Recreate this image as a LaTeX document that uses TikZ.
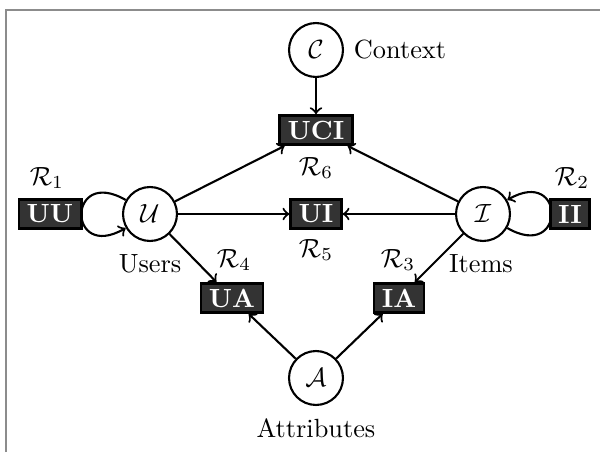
\documentclass[tikz,border=0pt]{standalone}
\begin{document}
\begin{tikzpicture}[%
        x=0.38pt, y=0.38pt,
        myentity/.style={shape=circle, draw, thick, minimum size=20.5pt, inner sep=0pt},
        myrel/.style={shape=rectangle, draw=black, line width=1pt, fill=black!80,
            text=white, font=\bfseries, inner xsep=3pt, inner ysep=2pt},
        myedge/.style={->, thick}
    ]
    \useasboundingbox (0,0) rectangle (600,452);
    \draw [black!45, line width=0.6pt] (6,0) -- (6,442) -- (600,442);
    \node [myentity] (C) at (316,402) {$\mathcal{C}$};
    \node [myentity] (U) at (150,238) {$\mathcal{U}$};
    \node [myentity] (I) at (483,238) {$\mathcal{I}$};
    \node [myentity] (A) at (316,74) {$\mathcal{A}$};
    \node (Ctext) at (400,402) {Context};
    \node (Utext) at (150,188) {Users};
    \node (Itext) at (481,188) {Items};
    \node (Atext) at (316,24) {Attributes};
    \draw [myedge] (U.150) .. controls +(150:68) and +(210:68) .. (U.210);
    \draw [myedge] (I.-30) .. controls +(-30:68) and +(30:68) .. (I.30);
    \node [myrel] (UCI) at (316,322) {UCI};
    \node [myrel] (UI) at (316,238) {UI};
    \node [myrel] (UU) at (50,238) {UU};
    \node [myrel] (II) at (570,238) {II};
    \node [myrel] (UA) at (232,154) {UA};
    \node [myrel] (IA) at (399,154) {IA};
    \node (R1) at (47,274) {$\mathcal{R}_1$};
    \node (R2) at (572,274) {$\mathcal{R}_2$};
    \node (R3) at (398,192) {$\mathcal{R}_3$};
    \node (R4) at (234,192) {$\mathcal{R}_4$};
    \node (R5) at (316,202) {$\mathcal{R}_5$};
    \node (R6) at (316,284) {$\mathcal{R}_6$};
    \foreach \mysrc/\mydst in {C/UCI, U/UCI, I/UCI, U/UI, I/UI, U/UA, I/IA, A/UA, A/IA}
        \draw [myedge] (\mysrc) -- (\mydst);
\end{tikzpicture}
\end{document}
